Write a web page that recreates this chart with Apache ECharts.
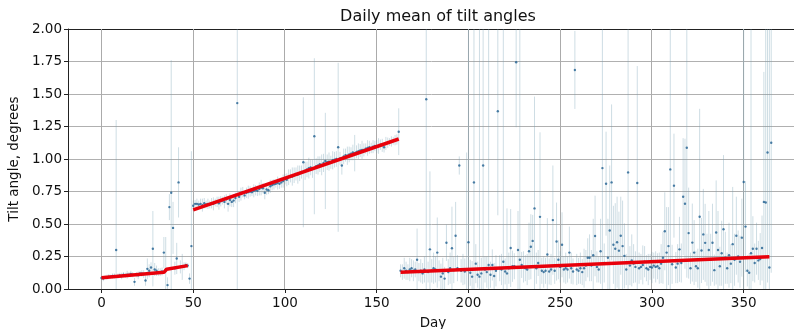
<!DOCTYPE html>
<html>
<head>
<meta charset="utf-8">
<script src="https://cdn.jsdelivr.net/npm/echarts@6/dist/echarts.min.js"></script>
<style>
  html, body { margin: 0; padding: 0; background: #fff; }
  #main { width: 794px; height: 329px; }
</style>
</head>
<body>
<div id="main"></div>
<script>
// daily mean tilt angle, index = day (0..365)
const tiltMean = [
  // 0
  0.085, 0.08, 0.09, 0.09, 0.095, 0.095, 0.10, 0.10, 0.30, 0.10,
  0.105, 0.10, 0.11, 0.105, 0.11, 0.11, 0.115, 0.11, 0.055, 0.11,
  0.105, 0.12, 0.12, 0.115, 0.065, 0.155, 0.14, 0.165, 0.31, 0.15,
  0.14, 0.13, 0.13, 0.135, 0.28, 0.15, 0.03, 0.63, 0.74, 0.47,
  0.16, 0.235, 0.82, 0.17, 0.17, 0.175, 0.185, 0.18, 0.08, 0.33,
  // 50
  0.64, 0.655, 0.655, 0.65, 0.655, 0.645, 0.66, 0.65, 0.655, 0.65,
  0.66, 0.655, 0.665, 0.67, 0.66, 0.675, 0.68, 0.67, 0.69, 0.655,
  0.685, 0.67, 0.68, 0.70, 1.43, 0.71, 0.73, 0.745, 0.72, 0.74,
  0.745, 0.75, 0.745, 0.755, 0.76, 0.755, 0.77, 0.78, 0.775, 0.74,
  0.765, 0.76, 0.79, 0.80, 0.805, 0.81, 0.815, 0.81, 0.82, 0.83,
  // 100
  0.845, 0.84, 0.86, 0.87, 0.865, 0.875, 0.885, 0.88, 0.89, 0.90,
  0.975, 0.91, 0.92, 0.93, 0.935, 0.925, 1.175, 0.945, 0.95, 0.96,
  0.955, 0.97, 0.985, 0.975, 0.98, 0.975, 0.99, 0.995, 1.00, 1.09,
  1.005, 0.95, 1.02, 1.03, 1.025, 1.035, 1.04, 1.05, 1.045, 1.055,
  1.06, 1.065, 1.07, 1.07, 1.08, 1.085, 1.09, 1.085, 1.095, 1.10,
  // 150
  1.095, 1.10, 1.11, 1.105, 1.09, 1.12, 1.125, 1.13, 1.135, 1.14,
  1.145, 1.15, 1.21, 0.14, 0.13, 0.16, 0.14, 0.13, 0.15, 0.16,
  0.14, 0.15, 0.225, 0.13, 0.14, 0.12, 0.15, 1.46, 0.13, 0.305,
  0.14, 0.16, 0.15, 0.28, 0.14, 0.095, 0.12, 0.08, 0.356, 0.13,
  0.16, 0.313, 0.145, 0.41, 0.16, 0.95, 0.14, 0.15, 0.135, 0.15,
  // 200
  0.36, 0.125, 0.095, 0.82, 0.195, 0.11, 0.095, 0.12, 0.95, 0.15,
  0.13, 0.185, 0.11, 0.185, 0.10, 0.14, 1.367, 0.16, 0.15, 0.21,
  0.135, 0.12, 0.16, 0.315, 0.175, 0.175, 1.744, 0.30, 0.225, 0.185,
  0.17, 0.16, 0.15, 0.29, 0.325, 0.37, 0.62, 0.16, 0.20, 0.555,
  0.14, 0.13, 0.14, 0.265, 0.135, 0.15, 0.53, 0.14, 0.365, 0.225,
  // 250
  0.17, 0.34, 0.15, 0.16, 0.15, 0.28, 0.16, 0.135, 1.685, 0.15,
  0.14, 0.16, 0.13, 0.16, 0.18, 0.24, 0.24, 0.18, 0.26, 0.408,
  0.17, 0.15, 0.29, 0.93, 0.20, 0.81, 0.24, 0.45, 0.82, 0.34,
  0.31, 0.36, 0.295, 0.41, 0.33, 0.255, 0.15, 0.897, 0.18, 0.22,
  0.195, 0.17, 0.815, 0.16, 0.17, 0.185, 0.21, 0.16, 0.15, 0.17,
  // 300
  0.165, 0.18, 0.17, 0.175, 0.16, 0.195, 0.24, 0.444, 0.28, 0.33,
  0.92, 0.19, 0.795, 0.165, 0.195, 0.305, 0.20, 0.71, 0.656, 1.087,
  0.43, 0.16, 0.357, 0.28, 0.175, 0.16, 0.556, 0.296, 0.42, 0.355,
  0.225, 0.30, 0.225, 0.356, 0.145, 0.435, 0.30, 0.175, 0.275, 0.46,
  0.24, 0.16, 0.26, 0.195, 0.345, 0.225, 0.41, 0.25, 0.21, 0.395,
  // 350
  0.823, 0.48, 0.14, 0.125, 0.275, 0.31, 0.20, 0.31, 0.22, 0.23,
  0.315, 0.67, 0.665, 1.05, 0.165, 1.125
];

// half width of the error bar for each day
const tiltErr = [
  // 0
  0.015, 0.02, 0.015, 0.02, 0.02, 0.015, 0.02, 0.02, 1.0, 0.02,
  0.02, 0.025, 0.02, 0.02, 0.03, 0.02, 0.025, 0.02, 0.03, 0.02,
  0.03, 0.02, 0.025, 0.03, 0.04, 0.08, 0.05, 0.04, 0.29, 0.05,
  0.04, 0.03, 0.03, 0.03, 0.12, 0.25, 0.06, 0.10, 1.02, 0.20,
  0.05, 0.12, 0.27, 0.05, 0.10, 0.03, 0.02, 0.02, 0.04, 0.73,
  // 50
  0.04, 0.03, 0.04, 0.03, 0.04, 0.05, 0.04, 0.03, 0.04, 0.03,
  0.04, 0.05, 0.03, 0.04, 0.05, 0.04, 0.03, 0.05, 0.04, 0.06,
  0.05, 0.04, 0.05, 0.04, 1.45, 0.04, 0.05, 0.04, 0.03, 0.04,
  0.05, 0.04, 0.03, 0.05, 0.04, 0.04, 0.05, 0.06, 0.04, 0.05,
  0.04, 0.03, 0.05, 0.04, 0.04, 0.03, 0.05, 0.04, 0.04, 0.05,
  // 100
  0.04, 0.05, 0.06, 0.05, 0.07, 0.06, 0.05, 0.07, 0.06, 0.05,
  0.50, 0.07, 0.06, 0.08, 0.06, 0.07, 0.60, 0.06, 0.07, 0.06,
  0.08, 0.07, 0.37, 0.06, 0.07, 0.05, 0.07, 0.06, 0.06, 0.65,
  0.05, 0.07, 0.06, 0.05, 0.07, 0.06, 0.05, 0.06, 0.14, 0.05,
  0.06, 0.05, 0.07, 0.05, 0.04, 0.06, 0.05, 0.04, 0.05, 0.04,
  // 150
  0.05, 0.06, 0.04, 0.05, 0.04, 0.05, 0.04, 0.03, 0.04, 0.03,
  0.04, 0.04, 0.18, 0.05, 0.06, 0.08, 0.07, 0.06, 0.09, 0.07,
  0.08, 0.06, 0.24, 0.07, 0.09, 0.08, 0.10, 1.50, 0.08, 0.60,
  0.09, 0.12, 0.10, 0.27, 0.08, 0.10, 0.12, 0.09, 0.14, 0.10,
  0.12, 0.32, 0.10, 0.26, 0.10, 0.07, 0.09, 0.12, 0.10, 0.90,
  // 200
  2.0, 0.10, 0.12, 1.30, 0.15, 0.10, 2.0, 0.12, 1.20, 0.10,
  0.12, 1.90, 0.10, 0.12, 0.10, 0.12, 0.80, 0.10, 0.12, 1.90,
  0.10, 0.50, 0.12, 0.30, 0.12, 0.10, 0.50, 0.30, 2.0, 0.10,
  0.12, 0.10, 0.12, 0.22, 0.25, 0.20, 0.86, 0.12, 0.10, 0.65,
  0.10, 0.12, 0.10, 0.28, 0.10, 0.12, 0.42, 0.10, 0.30, 0.15,
  // 250
  0.12, 0.25, 0.10, 0.12, 0.10, 0.20, 0.12, 0.10, 0.30, 0.12,
  0.10, 0.12, 0.10, 0.15, 0.12, 0.15, 0.18, 0.12, 0.28, 0.31,
  0.12, 0.10, 0.25, 1.20, 0.15, 0.40, 0.30, 0.50, 0.60, 0.30,
  0.35, 0.35, 0.30, 0.30, 0.35, 0.25, 0.12, 1.20, 0.15, 0.20,
  0.15, 0.12, 0.90, 0.12, 0.10, 0.15, 0.12, 0.10, 0.12, 0.10,
  // 300
  0.12, 0.10, 0.12, 0.10, 0.12, 0.15, 0.20, 0.30, 0.35, 0.30,
  1.20, 0.15, 0.40, 0.12, 0.15, 0.25, 0.15, 0.45, 0.50, 1.00,
  0.35, 0.12, 0.30, 0.25, 0.12, 0.15, 0.83, 0.25, 0.35, 0.30,
  0.20, 0.30, 0.20, 0.30, 0.12, 0.40, 0.30, 0.15, 0.25, 0.57,
  0.20, 0.12, 0.25, 0.15, 0.44, 0.20, 0.30, 0.20, 0.20, 0.30,
  // 350
  1.30, 0.35, 0.12, 0.15, 1.90, 0.25, 0.15, 0.20, 0.15, 0.20,
  0.25, 1.00, 1.40, 1.00, 1.90, 1.00
];

// linear fits per segment, [day, angle]
const fitSeg1 = [[0, 0.087], [34, 0.128], [35.5, 0.152], [47, 0.18]];
const fitSeg2 = [[50, 0.608], [162, 1.154]];
const fitSeg3 = [[163, 0.128], [364, 0.249]];

const xTicks = [0, 50, 100, 150, 200, 250, 300, 350];

const FONT = "DejaVu Sans";
const Y_MIN = 0, Y_MAX = 2;
const X_MIN = -18.25, X_MAX = 379.6;

const pointData = tiltMean.map((v, i) => [i, v]);
const barData = tiltMean.map((v, i) => [i, v - tiltErr[i], v + tiltErr[i]]);

const fitLine = (data) => ({
  type: "line",
  data: data,
  showSymbol: false,
  silent: true,
  z: 5,
  lineStyle: { color: "#e8000b", width: 3.5 },
});

// snap a coordinate to a pixel centre so 1px lines stay crisp
const crisp = (v) => Math.round(v - 0.5) + 0.5;

const chart = echarts.init(document.getElementById("main"), null, { renderer: "canvas" });

const option = {
  animation: false,
  backgroundColor: "#fff",
  title: {
    text: "Daily mean of tilt angles",
    left: 433,
    top: 4,
    textAlign: "center",
    textStyle: { fontFamily: FONT, fontSize: 16, fontWeight: "normal", color: "#111" },
  },
  grid: {
    left: 68,
    top: 29,
    right: -4,
    bottom: 40,
    outerBoundsMode: "none",
    containLabel: false,
    show: false,
  },
  xAxis: [
    {
      type: "value",
      min: X_MIN,
      max: X_MAX,
      name: "Day",
      nameLocation: "middle",
      nameGap: 27,
      nameTextStyle: { fontFamily: FONT, fontSize: 13.5, color: "#111" },
      axisLine: { onZero: false, lineStyle: { color: "#222" } },
      axisTick: { customValues: xTicks, length: 4, lineStyle: { color: "#222" } },
      axisLabel: { customValues: xTicks, fontFamily: FONT, fontSize: 13.5, color: "#111", margin: 7 },
      splitLine: { show: false },
    },
    {
      // top frame line only
      type: "value",
      position: "top",
      min: X_MIN,
      max: X_MAX,
      axisLine: { show: true, onZero: false, lineStyle: { color: "#222" } },
      axisTick: { show: false },
      axisLabel: { show: false },
      splitLine: { show: false },
    },
  ],
  yAxis: {
    type: "value",
    min: Y_MIN,
    max: Y_MAX,
    interval: 0.25,
    name: "Tilt angle, degrees",
    nameLocation: "middle",
    nameGap: 46,
    nameTextStyle: { fontFamily: FONT, fontSize: 13.5, color: "#111" },
    axisLine: { show: true, onZero: false, lineStyle: { color: "#222" } },
    axisTick: { show: true, length: 4, lineStyle: { color: "#222" } },
    axisLabel: {
      fontFamily: FONT, fontSize: 13.5, color: "#111", margin: 6,
      formatter: (v) => v.toFixed(2),
    },
    splitLine: { lineStyle: { color: "#b0b0b0", width: 1 } },
  },
  series: [
    {
      // vertical grid lines at the x ticks
      type: "custom",
      silent: true,
      z: 1,
      data: xTicks.map((t) => [t, Y_MIN, Y_MAX]),
      renderItem: (params, api) => {
        const a = api.coord([api.value(0), api.value(1)]);
        const b = api.coord([api.value(0), api.value(2)]);
        const x = crisp(a[0]);
        return {
          type: "line",
          shape: { x1: x, y1: a[1], x2: x, y2: b[1] },
          style: { stroke: "#ababab", lineWidth: 1 },
        };
      },
    },
    {
      // error bars
      type: "custom",
      silent: true,
      z: 2,
      data: barData,
      renderItem: (params, api) => {
        const x = api.value(0);
        const lo = Math.max(Y_MIN, api.value(1));
        const hi = Math.min(Y_MAX, api.value(2));
        const a = api.coord([x, lo]);
        const b = api.coord([x, hi]);
        return {
          type: "line",
          shape: { x1: a[0], y1: a[1], x2: b[0], y2: b[1] },
          style: { stroke: "rgba(120,160,180,0.36)", lineWidth: 1 },
        };
      },
    },
    {
      type: "scatter",
      data: pointData,
      symbolSize: 2.4,
      silent: true,
      z: 3,
      itemStyle: { color: "#1f5f90" },
    },
    fitLine(fitSeg1),
    fitLine(fitSeg2),
    fitLine(fitSeg3),
  ],
};

chart.setOption(option);
</script>
</body>
</html>
